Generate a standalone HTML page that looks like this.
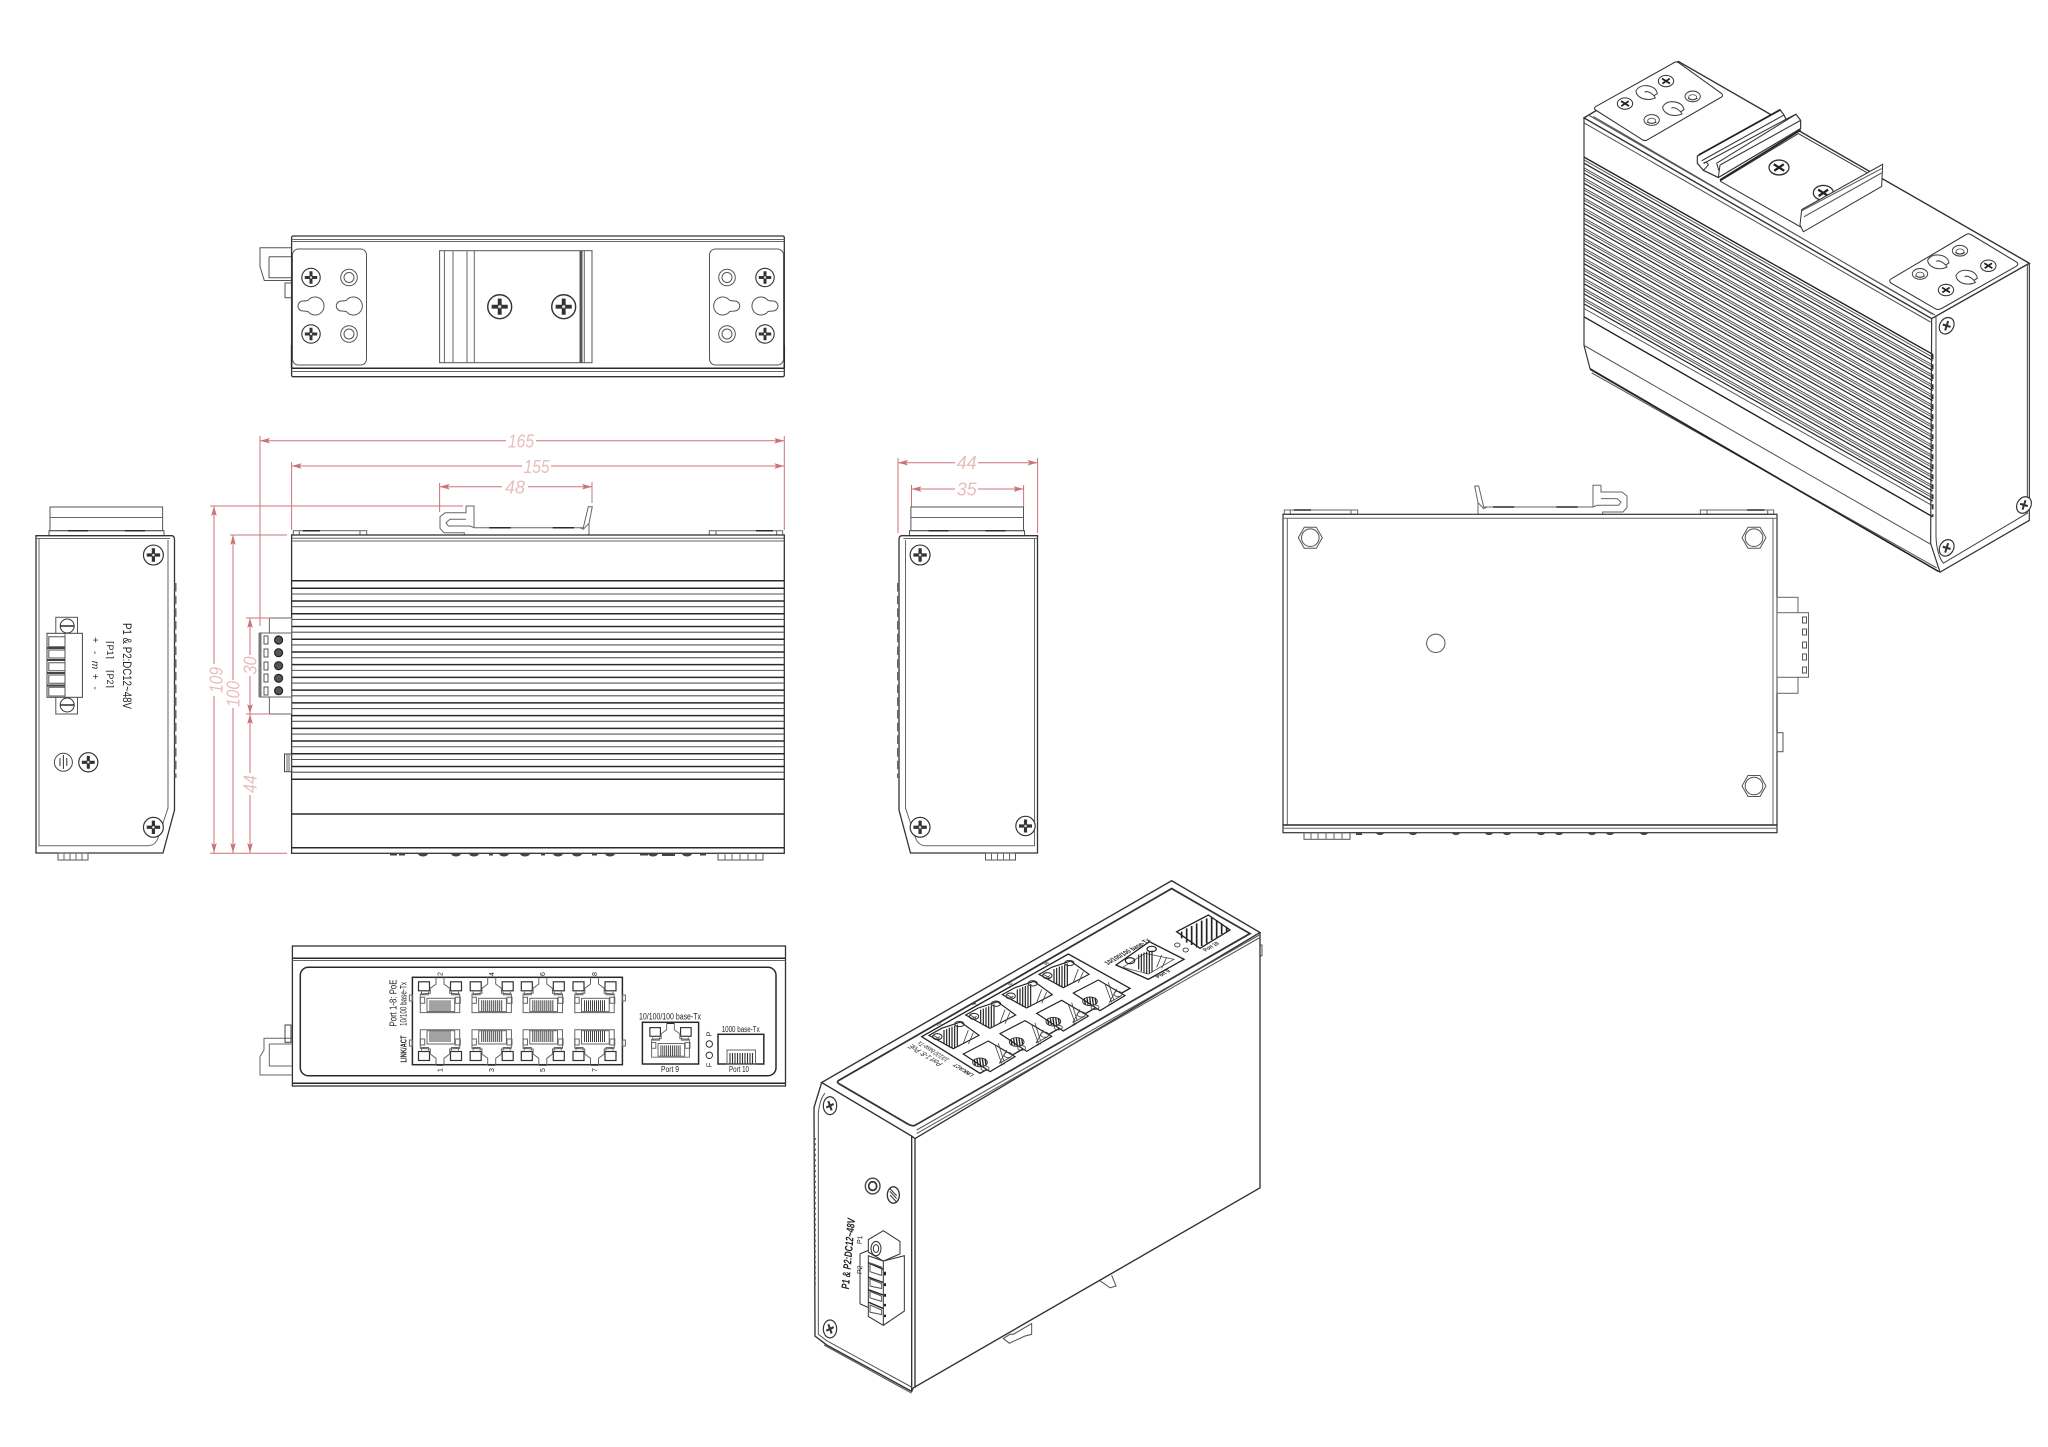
<!DOCTYPE html>
<html><head><meta charset="utf-8"><title>Switch dimension drawing</title>
<style>
html,body{margin:0;padding:0;background:#fff}
svg{display:block}
text{font-family:"Liberation Sans",sans-serif;fill:#222;stroke:none}
.dim{font-size:18px;fill:#e8bdbd;text-anchor:middle;font-style:italic}
.d{stroke:#cc7378;stroke-width:1;fill:none}
.t{stroke:#2a2a2a;stroke-width:1.5}
.l{stroke:#666;stroke-width:1}
.m{text-anchor:middle}
</style></head><body>
<svg xmlns="http://www.w3.org/2000/svg" width="2048" height="1447" viewBox="0 0 2048 1447">
<defs>
<marker id="a" markerUnits="userSpaceOnUse" markerWidth="12" markerHeight="8" refX="10" refY="4" orient="auto-start-reverse"><path d="M0 1.2L10 4L0 6.8L2 4Z" fill="#cc7378"/></marker>
<g id="sc"><circle r="9.2" fill="#fff" stroke="#333" stroke-width="1.1"/><path d="M-1.5-6.2H1.5V-1.5H6.2V1.5H1.5V6.2H-1.5V1.5H-6.2V-1.5H-1.5Z" fill="#333"/><circle r="1.2" fill="#ddd"/></g>
<g id="ring" fill="none" stroke="#555"><circle r="8.3"/><circle r="5"/></g>
<path id="key" fill="none" stroke="#555" d="M-7-5.6A9 9 0 1 1-7 5.6C-8 5.6-9 5-12 5A5 5 0 0 1-12-5C-9-5-8-5.6-7-5.6Z"/>
<g id="plate"><rect x="292.5" y="249" width="74" height="116" rx="6" fill="#fff" stroke="#555"/>
<use href="#sc" x="311" y="277.5"/><use href="#sc" x="311" y="334"/>
<use href="#ring" x="349" y="277.5"/><use href="#ring" x="349" y="334"/>
<use href="#key" x="315" y="306"/><use href="#key" x="353.3" y="306"/></g>
<g id="hook" fill="none" stroke="#666"><path d="M466 506H474V527.7H583.3L588.3 506.7H592.3L589 523.3L583.3 529.3L580 527.7M466 506V512.7H445L440 516.7V528.3L444 532.7H464.3V535M466 519.3H450L446 522.7L448.3 526H470L474 527.7M589 523V535"/>
<path class="t" d="M489.3 527.7H510.7M552.7 527.7H574"/>
<rect x="293.3" y="530.7" width="73.4" height="4.3"/><path d="M299.3 530.7V535M360 530.7V535M709.3 530.7H782.7V535H709.3ZM716 530.7V535M776.7 530.7V535"/>
<path class="t" d="M302.7 530.7H320M756 530.7H773"/></g>
<g id="shell" fill="none"><rect x="50" y="507" width="112.6" height="23.7" stroke="#555"/><path class="l" d="M50 517.5H162.6"/>
<rect x="49" y="530.7" width="115" height="5" stroke="#555"/><path class="t" d="M68 530.7H88M125 530.7H145"/>
<path stroke="#333" stroke-width="1.3" d="M36 535.7H172Q174.5 536 174.5 540V810L163 853H36Z"/>
<path class="l" d="M36 538.5H170M39 538.5V845.7H148Q155 845.7 158 838L168 808V540"/>
<path d="M175.5 583V778" stroke="#666" stroke-width="2" stroke-dasharray="8.5 4.2"/>
<use href="#sc" transform="translate(153.4 555) scale(1.08)"/>
<use href="#sc" transform="translate(153.4 827.3) scale(1.08)"/>
<rect x="58" y="853" width="30" height="7" stroke="#555"/><path class="l" d="M64 853V860M70 853V860M76 853V860M82 853V860"/></g>
<g id="fin"><path class="t" d="M291.6 588.3H784.3"/><path stroke="#555" stroke-width="1.1" d="M291.6 594H784.3"/></g>
<g id="rj" fill="none"><path class="t" d="M-4-20H4" stroke-width="2.5"/>
<rect stroke="#333" stroke-width="1.2" x="-21.5" y="-15.5" width="11" height="9"/><rect stroke="#333" stroke-width="1.2" x="10.5" y="-15.5" width="11" height="9"/>
<path class="l" d="M-4-20V-13.3L-9.7-9V-4L-19.7-3.3V15.3H19.7V-3.3L9.7-4V-9L4-13.3V-20M-18.5-5.5V-2.5H-11.5V-5.5M18.5-5.5V-2.5H11.5V-5.5"/>
<rect class="l" x="-13" y="1" width="27.7" height="13.3"/><rect class="l" x="-19.7" y="0" width="4.4" height="6"/><rect class="l" x="15.3" y="0" width="5" height="6"/>
<path stroke="#444" stroke-width="1" d="M-10 3V14M-8 3V14M-6 3V14M-4 3V14M-2 3V14M0 3V14M2 3V14M4 3V14M6 3V14M8 3V14M10 3V14"/></g>
<g id="isot" fill="none"><path d="M87 466L125 445L182 426L237 466L160 506Z" stroke="#222" stroke-width="3.5" fill="#fff"/>
<path stroke="#222" stroke-width="3.5" d="M132 450V490M140 447V497M148 443V502M156 440V505M164 437V503M172 434V498"/>
<ellipse cx="112" cy="470" rx="14" ry="9" stroke="#222" stroke-width="3"/><ellipse cx="178" cy="432" rx="14" ry="8" stroke="#333" stroke-width="3"/>
<path stroke="#444" stroke-width="2.5" d="M205 450L190 490M220 458L205 492M100 466L118 476M104 478L120 470"/></g>
<g id="isob" fill="none"><path d="M190 522L265 483L345 530L270 575Z" stroke="#222" stroke-width="3.5" fill="#fff"/>
<ellipse cx="240" cy="547" rx="22" ry="13" stroke="#333" stroke-width="3"/>
<path stroke="#222" stroke-width="4" d="M223 540L226 556M231 537L234 557M239 535L242 559M247 535L250 558M255 536L258 555"/>
<ellipse cx="255" cy="565" rx="12" ry="7" stroke="#444" stroke-width="2.5"/>
<ellipse cx="324" cy="525" rx="12" ry="8" stroke="#444" stroke-width="2.5"/>
<path stroke="#444" stroke-width="2.5" d="M285 495L305 550M320 510L298 550M335 530L298 550M295 490L312 545"/></g>
<g id="isoscr" fill="none"><ellipse rx="23" ry="16" fill="#fff" stroke="#333" stroke-width="3"/><path stroke="#222" stroke-width="5" d="M-12-7L12 7M-11 7L11-7"/></g>
<g id="isoring" fill="none"><ellipse rx="23" ry="15" fill="#fff" stroke="#444" stroke-width="3"/><path stroke="#222" stroke-width="3" d="M-14 5Q0 14 14 5"/><ellipse cy="2" rx="12" ry="7" stroke="#555" stroke-width="2.5"/></g>
<g id="isokey" fill="none" stroke="#444" stroke-width="3"><path d="M-32-6Q-22-22 0-20Q28-18 32 2L22 8L26 14Q8 22-12 16Q-32 8-32-6Z" fill="#fff"/><path d="M-6-2Q4-8 22 8"/></g>
<g id="endscr"><ellipse rx="20" ry="25" fill="#fff" stroke="#333" stroke-width="3.5"/><path stroke="#333" stroke-width="6" d="M-11 5L11-5M-5-13L5 13"/></g>
<g id="isofin" fill="none"><path stroke="#222" stroke-width="1.2" d="M1584 163.2L1932.7 360.5"/><path stroke="#555" stroke-width="1" d="M1584 159.9L1932.7 357.2M1584 167.8L1932.7 365.1"/></g>
</defs>
<rect width="2048" height="1447" fill="#fff"/>

<!-- TOP VIEW -->
<g fill="none">
<path stroke="#555" d="M291.7 247.7H260V266.7L264.3 280.5H291.7M269 256.7H291.7M269 256.7V277.7H291.7"/>
<rect x="285" y="283" width="6.5" height="14.7" stroke="#555"/>
<rect stroke="#333" stroke-width="1.3" x="291.6" y="236" width="492.7" height="140.7" rx="1.5"/>
<path class="l" d="M291.6 239.5H784.3M291.6 241.5H784.3M291.6 371.5H784.3"/><path class="t" d="M291.6 368.3H784.3"/>
<path class="t" d="M291.6 345V368M784.3 345V368"/>
<use href="#plate"/><use href="#plate" transform="translate(1076 0) scale(-1 1)"/>
<rect x="439.6" y="250.7" width="152.4" height="112" stroke="#555"/>
<path class="l" d="M444.4 250.7V362.7M453 250.7V362.7M467 250.7V362.7M474.3 250.7V362.7M584.3 250.7V362.7"/><path stroke="#555" stroke-width="3" d="M581 250.7V362.7"/>
<use href="#sc" transform="translate(499.7 306.7) scale(1.3)"/><use href="#sc" transform="translate(563.7 306.7) scale(1.3)"/>
</g>

<!-- LEFT VIEW -->
<use href="#shell"/>
<g fill="none">
<rect x="55.8" y="617.3" width="21.7" height="96.7" stroke="#555"/>
<circle cx="67.2" cy="626" r="7" stroke="#333"/><path class="t" d="M60.5 626H74"/><circle cx="67.2" cy="705" r="7" stroke="#333"/><path class="t" d="M60.5 705H74"/>
<rect x="47" y="633.3" width="35.4" height="64" fill="#fff" stroke="#444"/><path class="l" d="M65 633.3V697.3"/>
<path stroke="#555" d="M48.8 636.7H65V646.7H48.8ZM48.8 650H65V658H48.8ZM48.8 662.7H65V670.7H48.8ZM48.8 675H65V683.3H48.8ZM48.8 687.3H65V696H48.8Z"/>
<path stroke="#444" stroke-width="2" d="M47 648H65M47 660H65M47 673H65M47 685.5H65"/>
<circle cx="63.4" cy="762.3" r="9" stroke="#444"/><path stroke="#333" d="M63.4 755V769M60 758V766M66.8 758V766"/>
<use href="#sc" transform="translate(88.3 762.3) scale(1.04)"/>
</g>
<text font-size="12" class="m" transform="translate(123 666) rotate(90)" textLength="86" lengthAdjust="spacingAndGlyphs">P1 &amp; P2:DC12~48V</text>
<text font-size="10" class="m" transform="translate(92 640) rotate(90)">+</text>
<text font-size="10" class="m" transform="translate(92 652.7) rotate(90)">-</text>
<text font-size="10" class="m" font-style="italic" transform="translate(92 665) rotate(90)">m</text>
<text font-size="10" class="m" transform="translate(92 676.7) rotate(90)">+</text>
<text font-size="10" class="m" transform="translate(92 688) rotate(90)">-</text>
<text font-size="9" class="m" transform="translate(107 650) rotate(90)">⌈P1⌉</text>
<text font-size="9" class="m" transform="translate(107 679) rotate(90)">⌈P2⌉</text>

<!-- FRONT VIEW -->
<use href="#hook"/>
<g fill="none">
<rect stroke="#333" stroke-width="1.3" x="291.6" y="535" width="492.7" height="318.3"/>
<path class="l" d="M291.6 538.3H784.3M291.6 541H784.3"/>
<path class="t" d="M291.6 580.7H784.3M291.6 779.3H784.3M291.6 814H784.3M291.6 847.7H784.3"/>
<use href="#fin"/><use href="#fin" y="12.73"/><use href="#fin" y="25.46"/><use href="#fin" y="38.19"/><use href="#fin" y="50.92"/><use href="#fin" y="63.65"/><use href="#fin" y="76.38"/><use href="#fin" y="89.11"/><use href="#fin" y="101.84"/><use href="#fin" y="114.57"/><use href="#fin" y="127.3"/><use href="#fin" y="140.03"/><use href="#fin" y="152.76"/><use href="#fin" y="165.49"/><use href="#fin" y="178.22"/>
<rect x="269.4" y="618" width="22.2" height="96" fill="#fff" stroke="#666"/>
<rect x="259.5" y="633" width="32" height="64" fill="#fff" stroke="#666"/>
<path stroke="#777" stroke-width="3" d="M260 633V697"/>
<path stroke="#555" d="M264 636h4v8h-4zM264 649h4v8h-4zM264 662h4v8h-4zM264 674h4v8h-4zM264 687h4v8h-4z"/>
<g fill="#555" stroke="#222" stroke-width="1.2"><circle cx="278.6" cy="640" r="4"/><circle cx="278.6" cy="652.7" r="4"/><circle cx="278.6" cy="665.7" r="4"/><circle cx="278.6" cy="678.3" r="4"/><circle cx="278.6" cy="690.7" r="4"/></g>
<rect x="284.5" y="754" width="7" height="17.7" stroke="#444"/><path class="l" d="M287 754V771.7M289 754V771.7"/>
<rect x="718" y="853" width="45" height="7" stroke="#555"/><path class="l" d="M725 853V860M732 853V860M740 853V860M748 853V860M756 853V860"/>
<path stroke="#444" stroke-width="2" d="M390 854.5H397M399 854.5H405M489 854.5H493M541 854.5H545M592 854.5H597M640 854.5H648M662 855H675M700 854.5H706"/>
<g fill="#444" stroke="none"><path d="M418 853.5a5 3 0 0 0 10 0zM451 853.5a5 3 0 0 0 10 0zM469 853.5a5 3 0 0 0 10 0zM499 853.5a5 3 0 0 0 10 0zM520 853.5a5 3 0 0 0 10 0zM553 853.5a5 3 0 0 0 10 0zM572 853.5a5 3 0 0 0 10 0zM605 853.5a5 3 0 0 0 10 0zM648 853.5a5 3 0 0 0 10 0zM682 853.5a5 3 0 0 0 10 0z"/></g>
</g>

<!-- DIMENSIONS LEFT -->
<g class="d">
<path d="M260 440.7H506" marker-start="url(#a)"/><path d="M536 440.7H784.3" marker-end="url(#a)"/>
<path d="M291.6 466H522" marker-start="url(#a)"/><path d="M551 466H784.3" marker-end="url(#a)"/>
<path d="M439.6 486.7H502" marker-start="url(#a)"/><path d="M528 486.7H592" marker-end="url(#a)"/>
<path d="M260 436V626M291.6 462V530M784.3 436V530M439.6 483V512M592 482V503"/>
<path d="M214 506V664" marker-start="url(#a)"/><path d="M214 696V853" marker-end="url(#a)"/>
<path d="M233 535V680" marker-start="url(#a)"/><path d="M233 708V853" marker-end="url(#a)"/>
<path d="M250 618V655" marker-start="url(#a)"/><path d="M250 676V714" marker-end="url(#a)"/>
<path d="M250 714V773" marker-start="url(#a)"/><path d="M250 795V853" marker-end="url(#a)"/>
<path d="M210 506H463M230 535H287M210 853.3H287M246 618H270M246 714H270"/>
<path d="M898 462.7H955" marker-start="url(#a)"/><path d="M978 462.7H1037.6" marker-end="url(#a)"/>
<path d="M911.5 489H955" marker-start="url(#a)"/><path d="M978 489H1023.6" marker-end="url(#a)"/>
<path d="M898 458V533M1037.6 458V533M911.5 485V507M1023.6 485V507"/>
</g>
<text class="dim" x="521" y="447.5" textLength="26" lengthAdjust="spacingAndGlyphs">165</text>
<text class="dim" x="536.6" y="473" textLength="26" lengthAdjust="spacingAndGlyphs">155</text>
<text class="dim" x="515" y="493.5" textLength="20" lengthAdjust="spacingAndGlyphs">48</text>
<text class="dim" transform="translate(222.5 680) rotate(-90)" textLength="26" lengthAdjust="spacingAndGlyphs">109</text>
<text class="dim" transform="translate(239.5 694) rotate(-90)" textLength="26" lengthAdjust="spacingAndGlyphs">100</text>
<text class="dim" transform="translate(256.5 665.5) rotate(-90)" textLength="18" lengthAdjust="spacingAndGlyphs">30</text>
<text class="dim" transform="translate(256.5 784) rotate(-90)" textLength="18" lengthAdjust="spacingAndGlyphs">44</text>
<text class="dim" x="966.7" y="469" textLength="20" lengthAdjust="spacingAndGlyphs">44</text>
<text class="dim" x="966.7" y="495.5" textLength="20" lengthAdjust="spacingAndGlyphs">35</text>

<!-- RIGHT END VIEW -->
<use href="#shell" transform="translate(1073.5 0) scale(-1 1)"/>
<use href="#sc" transform="translate(1025.5 826) scale(1.05)"/>

<!-- BACK VIEW -->
<use href="#hook" transform="translate(2067 -20.7) scale(-1 1)"/>
<g fill="none">
<rect stroke="#333" stroke-width="1.2" x="1283" y="514.3" width="494" height="318.4"/>
<path class="l" d="M1283 518.3H1777M1287.3 518.3V825M1773 518.3V825"/>
<path class="t" d="M1283 825H1777"/><path class="l" d="M1283 828.3H1777"/>
<g stroke="#555"><path d="M1298.3 537.7L1304.3 527.2H1316.3L1322.3 537.7L1316.3 548.2H1304.3Z"/><circle cx="1310.3" cy="537.7" r="8.8"/>
<path d="M1742 537.7L1748 527.2H1760L1766 537.7L1760 548.2H1748Z"/><circle cx="1754" cy="537.7" r="8.8"/>
<path d="M1742 786L1748 775.5H1760L1766 786L1760 796.5H1748Z"/><circle cx="1754" cy="786" r="8.8"/></g>
<circle cx="1435.8" cy="643.3" r="9.2" stroke="#555"/>
<rect x="1777" y="597.3" width="21" height="96" stroke="#666"/><rect x="1777" y="612.7" width="31.5" height="64.6" fill="#fff" stroke="#666"/>
<path stroke="#555" d="M1802.5 617h4v6h-4zM1802.5 629h4v6h-4zM1802.5 642h4v6h-4zM1802.5 654h4v6h-4zM1802.5 667h4v6h-4z"/>
<rect x="1777" y="732.7" width="6" height="19" stroke="#555"/>
<rect x="1304" y="832.7" width="46" height="6.6" stroke="#555"/><path class="l" d="M1311 832.7V839.3M1318 832.7V839.3M1326 832.7V839.3M1334 832.7V839.3M1342 832.7V839.3"/>
<path stroke="#444" stroke-width="2" d="M1356 834H1362"/>
<g fill="#444" stroke="none"><path d="M1376 832.7a4 2.4 0 0 0 8 0zM1409 832.7a4 2.4 0 0 0 8 0zM1452 832.7a4 2.4 0 0 0 8 0zM1485 832.7a4 2.4 0 0 0 8 0zM1503 832.7a4 2.4 0 0 0 8 0zM1537 832.7a4 2.4 0 0 0 8 0zM1555 832.7a4 2.4 0 0 0 8 0zM1588 832.7a4 2.4 0 0 0 8 0zM1606 832.7a4 2.4 0 0 0 8 0zM1640 832.7a4 2.4 0 0 0 8 0z"/></g>
</g>

<!-- PANEL VIEW -->
<g fill="none">
<path stroke="#666" d="M291.7 1038.3H264V1050L260 1056.7V1075H291.7M269.3 1044H291.7M269.3 1044V1066H291.7"/>
<rect x="285" y="1025" width="6" height="17.3" stroke="#444"/>
<rect stroke="#333" stroke-width="1.3" x="292.4" y="946" width="493.1" height="140"/>
<path class="t" d="M292.4 958.3H785.5M292.4 1083.3H785.5"/>
<path class="l" d="M292.4 960.5H785.5"/>
<rect class="t" x="300.3" y="967.3" width="475.7" height="108.4" rx="8"/>
<rect class="t" x="412.4" y="977.3" width="210" height="87.4"/>
<path class="l" d="M412.4 995h-3v6h3zM412.4 1040h-3v6h3zM622.4 995h3v6h-3zM622.4 1040h3v6h-3z"/>
<use href="#rj" x="440" y="997.3"/><use href="#rj" x="491.7" y="997.3"/><use href="#rj" x="542.8" y="997.3"/><use href="#rj" x="594.5" y="997.3"/>
<use href="#rj" transform="translate(440 1045) scale(1 -1)"/><use href="#rj" transform="translate(491.7 1045) scale(1 -1)"/><use href="#rj" transform="translate(542.8 1045) scale(1 -1)"/><use href="#rj" transform="translate(594.5 1045) scale(1 -1)"/>
<rect class="t" x="642.4" y="1022.3" width="56.2" height="41.7"/>
<use href="#rj" transform="translate(670.5 1042.5) scale(.96)"/>
<circle cx="709.3" cy="1044" r="3.2" stroke="#333"/><circle cx="709.3" cy="1055.3" r="3.2" stroke="#333"/>
<rect class="t" x="718" y="1034.3" width="45.8" height="29.7"/>
<rect class="l" x="727" y="1050" width="28.5" height="14"/>
<path stroke="#333" stroke-width="1.1" d="M730 1053V1064M732.5 1053V1064M735 1053V1064M737.5 1053V1064M740 1053V1064M742.5 1053V1064M745 1053V1064M747.5 1053V1064M750 1053V1064M752.5 1053V1064"/>
</g>
<g>
<text font-size="10.5" class="m" transform="translate(396.5 1003) rotate(-90)" textLength="47" lengthAdjust="spacingAndGlyphs">Port 1-8: PoE</text>
<text font-size="9.5" class="m" transform="translate(406.5 1004) rotate(-90)" textLength="44" lengthAdjust="spacingAndGlyphs">10/100 base-Tx</text>
<text font-size="8" font-weight="bold" class="m" transform="translate(406.5 1049) rotate(-90)" textLength="27" lengthAdjust="spacingAndGlyphs">LINK/ACT</text>
<text font-size="7" class="m" transform="translate(442.5 974) rotate(-90)">2</text><text font-size="7" class="m" transform="translate(494 974) rotate(-90)">4</text><text font-size="7" class="m" transform="translate(545 974) rotate(-90)">6</text><text font-size="7" class="m" transform="translate(597 974) rotate(-90)">8</text>
<text font-size="7" class="m" transform="translate(442.5 1070) rotate(-90)">1</text><text font-size="7" class="m" transform="translate(494 1070) rotate(-90)">3</text><text font-size="7" class="m" transform="translate(545 1070) rotate(-90)">5</text><text font-size="7" class="m" transform="translate(597 1070) rotate(-90)">7</text>
<text font-size="9.5" class="m" x="670" y="1019.5" textLength="62" lengthAdjust="spacingAndGlyphs">10/100/100 base-Tx</text>
<text font-size="8" class="m" x="670" y="1072" textLength="18" lengthAdjust="spacingAndGlyphs">Port 9</text>
<text font-size="8" class="m" x="740.7" y="1032" textLength="38" lengthAdjust="spacingAndGlyphs">1000 base-Tx</text>
<text font-size="8" class="m" x="739" y="1072" textLength="20" lengthAdjust="spacingAndGlyphs">Port 10</text>
<text font-size="7.5" class="m" transform="translate(711.5 1034) rotate(-90)">P</text>
<text font-size="7.5" class="m" transform="translate(711.5 1065) rotate(-90)">F</text>
</g>

<!-- ISO 1 : ports up -->
<g transform="translate(800 870) scale(.33333 .35714)" fill="none" stroke="#333" stroke-width="3">
<path d="M610 1312L628 1325L675 1305L695 1300V1270L640 1300L630 1300ZM900 1150L930 1170L948 1165L935 1135" stroke="#555"/>
<path d="M1380 210H1386V240H1380" stroke="#555"/>
<path stroke-width="4" d="M65 595L1115 30L1380 175L345 752L335 745Z" fill="#fff"/>
<path stroke-width="4" d="M65 595L42 665L45 1305L80 1330L335 1460L340 1450L1380 890V175M345 752V1450M335 745V1460"/>
<path d="M75 625Q60 640 55 680V1300L80 1318L335 1448M72 1330L335 1465" stroke="#555"/>
<path stroke-width="5" d="M115 590L1115 52L1350 178L345 715Q335 718 325 712L120 600Q108 595 115 590Z"/>
<path d="M350 728L1378 182M350 738L1378 190" stroke="#555"/>
<path d="M45 750V1170" stroke="#555" stroke-width="5" stroke-dasharray="6 9"/>
<use href="#endscr" x="90" y="660"/><use href="#endscr" x="90" y="1285"/>
<circle cx="218" cy="885" r="22" stroke="#444" stroke-width="4"/><circle cx="218" cy="885" r="12" stroke="#333" stroke-width="5"/>
<ellipse cx="280" cy="910" rx="18" ry="23" stroke="#333" stroke-width="4"/><path d="M270 900L290 920M270 910L290 930M270 892L290 912" stroke="#333"/>
<path d="M205 1035L250 1010L300 1040V1075L250 1095L205 1070Z" fill="#fff"/><ellipse cx="228" cy="1060" rx="15" ry="20"/><ellipse cx="228" cy="1060" rx="8" ry="11"/>
<path d="M205 1080L250 1095L313 1080V1235L250 1275L205 1250Z" fill="#fff"/>
<path d="M250 1095V1275M180 1075V1215M180 1075L205 1065M180 1215L205 1225"/>
<path stroke="#222" stroke-width="4" d="M205 1100L250 1118M205 1140L250 1155M205 1175L250 1190M205 1210L250 1228"/>
<path d="M210 1100L245 1112L245 1135L210 1125ZM210 1145L245 1158L245 1172L210 1165ZM210 1180L245 1193L245 1208L210 1198ZM210 1218L245 1232L245 1245L210 1238Z" stroke="#555"/>
<path stroke="#222" stroke-width="6" d="M255 1125V1135M255 1157V1165M255 1187V1195M255 1215V1222M255 1245V1252"/>
</g>
<text font-size="11" font-style="italic" font-weight="bold" class="m" transform="translate(852 1254) rotate(-85)" textLength="71" lengthAdjust="spacingAndGlyphs">P1 &amp; P2:DC12~48V</text>
<text font-size="7" class="m" transform="translate(862 1240) rotate(-85)">P1</text>
<text font-size="7" class="m" transform="translate(862 1270) rotate(-85)">P2</text>
<g transform="translate(900 880) scale(.33333)" fill="none" stroke="#222" stroke-width="3.5">
<path d="M65 470L505 222L690 325L240 580Z" stroke-width="4"/>
<use href="#isot"/><use href="#isot" x="110" y="-61"/><use href="#isot" x="220" y="-122"/><use href="#isot" x="330" y="-183"/>
<use href="#isob"/><use href="#isob" x="110" y="-61"/><use href="#isob" x="220" y="-122"/><use href="#isob" x="330" y="-183"/>
<path d="M648 255L748 185L852 238L745 298Z" stroke-width="4"/>
<path d="M668 262L735 220L822 238L745 282Z" stroke-width="2.5" stroke="#555"/>
<ellipse cx="690" cy="242" rx="14" ry="9"/><ellipse cx="755" cy="207" rx="14" ry="8"/>
<path d="M716 224V268M724 221V274M732 218V278M740 215V282M748 213V280M756 212V276"/>
<path stroke="#444" stroke-width="2.5" d="M785 225L770 262M800 232L785 265"/>
<ellipse cx="832" cy="195" rx="8" ry="6" stroke-width="2.5"/><ellipse cx="857" cy="210" rx="8" ry="6" stroke-width="2.5"/>
<path d="M830 155L925 105L990 150L900 205Z" stroke-width="4"/>
<path stroke-width="5" d="M845 155V175M860 145V188M875 138V195M890 130V202M905 122V198M920 115V190M935 112V180M950 120V172M965 130V162M980 140V155"/>
</g>
<g transform="matrix(.698 -.394 .667 .419 -18.1 789.7)">
<text font-size="10.5" class="m" transform="translate(396.5 1003) rotate(-90)" textLength="47" lengthAdjust="spacingAndGlyphs">Port 1-8: PoE</text>
<text font-size="9.5" class="m" transform="translate(406.5 1004) rotate(-90)" textLength="44" lengthAdjust="spacingAndGlyphs">10/100 base-Tx</text>
<text font-size="8" font-weight="bold" class="m" transform="translate(406.5 1049) rotate(-90)" textLength="27" lengthAdjust="spacingAndGlyphs">LINK/ACT</text>
<text font-size="7" class="m" transform="translate(442.5 974) rotate(-90)">2</text><text font-size="7" class="m" transform="translate(494 974) rotate(-90)">4</text><text font-size="7" class="m" transform="translate(545 974) rotate(-90)">6</text><text font-size="7" class="m" transform="translate(597 974) rotate(-90)">8</text>
<text font-size="7" class="m" transform="translate(442.5 1070) rotate(-90)">1</text><text font-size="7" class="m" transform="translate(494 1070) rotate(-90)">3</text><text font-size="7" class="m" transform="translate(545 1070) rotate(-90)">5</text><text font-size="7" class="m" transform="translate(597 1070) rotate(-90)">7</text>
<text font-size="9.5" font-weight="bold" class="m" x="670" y="1019.5" textLength="62" lengthAdjust="spacingAndGlyphs">10/100/100 base-Tx</text>
<text font-size="8" font-weight="bold" class="m" x="670" y="1072" textLength="18" lengthAdjust="spacingAndGlyphs">Port 9</text>
<text font-size="8" font-weight="bold" class="m" x="739" y="1072" textLength="20" lengthAdjust="spacingAndGlyphs">Port 10</text>
</g>

<!-- ISO 2 : rail up -->
<g fill="none">
<use href="#isofin"/><use href="#isofin" y="10.05"/><use href="#isofin" y="20.1"/><use href="#isofin" y="30.15"/><use href="#isofin" y="40.2"/><use href="#isofin" y="50.25"/><use href="#isofin" y="60.3"/><use href="#isofin" y="70.35"/><use href="#isofin" y="80.4"/><use href="#isofin" y="90.45"/><use href="#isofin" y="100.5"/><use href="#isofin" y="110.55"/><use href="#isofin" y="120.6"/><use href="#isofin" y="130.65"/><use href="#isofin" y="140.7"/>
<path stroke="#222" stroke-width="1.4" d="M1584 157.1L1932.7 354.3M1584 316.8L1932.7 516.8"/>
</g>
<g transform="translate(1560 40) scale(.33333 .35714)" fill="none" stroke="#333" stroke-width="3">
<path stroke-width="4" d="M72 218L355 60L1408 625L1115 780Z"/>
<path stroke-width="3.5" d="M72 218V855L90 920L1140 1490L1408 1345V625M1115 780L1112 1410L1140 1490"/>
<path d="M1128 775V1390Q1130 1440 1150 1465L1402 1325V630" stroke="#444"/>
<path stroke="#555" d="M72 232L1112 790M85 210L1125 770M100 214L1118 768M72 855L1112 1412M95 932L1130 1478"/>
<path stroke="#222" stroke-width="4" d="M90 922L1135 1488"/>
<path d="M1118 880V1335" stroke="#333" stroke-width="5" stroke-dasharray="14 14"/>
<path fill="#fff" d="M105 195Q100 190 110 185L345 62Q350 60 358 65L485 150Q492 158 480 162L265 278Q255 285 245 278Z"/>
<path fill="#fff" d="M992 680Q985 672 995 668L1218 545Q1225 540 1235 546L1370 622Q1378 628 1368 634L1148 750Q1135 758 1125 752Z"/>
<use href="#isoscr" x="195" y="178"/><use href="#isoscr" x="318" y="115"/>
<use href="#isoring" x="275" y="224"/><use href="#isoring" x="398" y="158"/>
<use href="#isokey" x="260" y="148"/><use href="#isokey" x="340" y="193"/>
<use href="#isoring" x="1080" y="655"/><use href="#isoring" x="1200" y="590"/>
<use href="#isokey" x="1135" y="622"/><use href="#isokey" x="1220" y="665"/>
<use href="#isoscr" x="1158" y="700"/><use href="#isoscr" x="1285" y="632"/>
<path fill="#fff" stroke="#fff" d="M480 395L715 262L965 395L725 530Z"/>
<path d="M480 395L715 262L965 395M480 395L725 525"/>
<use href="#isoscr" transform="translate(657 357) scale(1.3)"/>
<use href="#isoscr" transform="translate(790 428) scale(1.3)"/>
<path fill="#fff" d="M725 475L968 348L965 410L730 537L720 518Z"/>
<path stroke="#555" d="M725 478L965 360M732 495L965 372"/>
<path fill="#fff" stroke-width="3.5" d="M412 325L660 195L672 210L678 222L708 208L722 225V248L475 385L430 365L412 345Z"/>
<path stroke="#333" d="M425 338L672 210M432 345L678 222M470 345L708 208M480 350L722 225M475 385L480 350M470 345L478 370M430 345Q440 338 445 350L430 365"/>
<path stroke="#222" stroke-width="5" d="M416 322L660 196M480 392L722 252"/>
<use href="#endscr" transform="translate(1160 800) rotate(40)"/>
<use href="#endscr" transform="translate(1160 1422) rotate(40)"/>
<use href="#endscr" transform="translate(1392 1302) rotate(40)"/>
</g>
</svg>
</body></html>
